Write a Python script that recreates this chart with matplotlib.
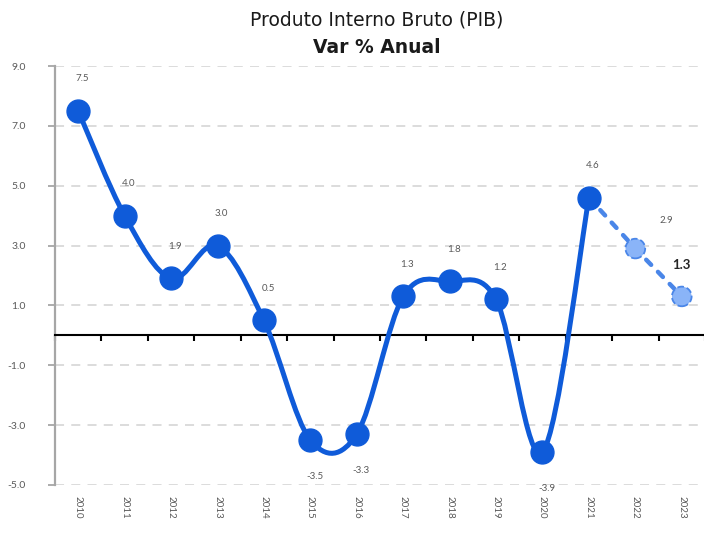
"""
PIB - variacao percentual anual, com os dois ultimos anos como projecao.
Gera out.png.
"""
import matplotlib
matplotlib.use("Agg")
import matplotlib.pyplot as plt
from matplotlib.path import Path
from matplotlib.patches import PathPatch
import numpy as np

# ─── Dados ──────────────────────────────────────────────────────────────────
ANOS = ["2010", "2011", "2012", "2013", "2014", "2015", "2016",
        "2017", "2018", "2019", "2020", "2021", "2022", "2023"]
PIB_REAL = [7.5, 4.0, 1.9, 3.0, 0.5, -3.5, -3.3, 1.3, 1.8, 1.2, -3.9, 4.6]
PIB_PROJ = [2.9, 1.3]
Y_TICKS = [-5, -3, -1, 1, 3, 5, 7, 9]

# ─── Estilo ─────────────────────────────────────────────────────────────────
AZUL = "#0f5bd9"
AZUL_PROJ = "#4a86e8"
AZUL_CLARO = "#8ab4f8"
CINZA_TXT = "#595959"
CINZA_GRID = "#d9d9d9"
CINZA_EIXO = "#a6a6a6"


def curva_suave(x, y):
    """Caminho Bezier suavizado (tipo Catmull-Rom) passando pelos pontos."""
    pts = np.column_stack([x, y]).astype(float)
    n = len(pts)
    verts = [pts[0]]
    codes = [Path.MOVETO]
    for i in range(n - 1):
        p0 = pts[i - 1] if i > 0 else pts[i]
        p1 = pts[i]
        p2 = pts[i + 1]
        p3 = pts[i + 2] if i + 2 < n else pts[i + 1]
        c1 = p1 + (p2 - p0) / 6.0
        c2 = p2 - (p3 - p1) / 6.0
        verts += [c1, c2, p2]
        codes += [Path.CURVE4] * 3
    return Path(verts, codes)


def main():
    plt.rcParams["font.family"] = ["Lato", "DejaVu Sans"]

    fig = plt.figure(figsize=(7.04, 5.37), dpi=100)
    ax = fig.add_axes([55 / 704, 52 / 537, 650 / 704, 419 / 537])

    x_real = np.arange(len(PIB_REAL))
    x_proj = np.arange(len(PIB_REAL), len(ANOS))

    # grade tracejada
    for v in Y_TICKS:
        ax.axhline(v, color=CINZA_GRID, lw=1.3, ls=(0, (5, 4)), zorder=0)

    # linha suavizada dos anos realizados
    patch = PathPatch(curva_suave(x_real, PIB_REAL), fill=False,
                      edgecolor=AZUL, lw=3.6, capstyle="round",
                      joinstyle="round", zorder=3)
    ax.add_patch(patch)
    ax.plot(x_real, PIB_REAL, ls="none", marker="o", ms=16.5,
            color=AZUL, zorder=5)

    # projecao tracejada
    ax.plot([x_real[-1]] + list(x_proj), [PIB_REAL[-1]] + PIB_PROJ,
            color=AZUL_PROJ, lw=3.2, ls=(0, (1.6, 2.2)),
            dash_capstyle="round", zorder=2)
    ax.scatter(x_proj, PIB_PROJ, s=200, facecolor=AZUL_CLARO,
               edgecolor=AZUL_PROJ, linewidths=1.3, linestyle="--", zorder=5)

    # rotulos de valor
    for xi, v in zip(x_real, PIB_REAL):
        dy = 23 if v >= 0 else -26
        ax.annotate(f"{v:.1f}", (xi, v), xytext=(3, dy),
                    textcoords="offset points", ha="center", va="center",
                    fontsize=7, color=CINZA_TXT)
    ax.annotate(f"{PIB_PROJ[0]:.1f}", (x_proj[0], PIB_PROJ[0]),
                xytext=(22, 20), textcoords="offset points",
                ha="center", va="center", fontsize=7, color=CINZA_TXT)
    ax.annotate(f"{PIB_PROJ[1]:.1f}", (x_proj[1], PIB_PROJ[1]),
                xytext=(0, 23), textcoords="offset points",
                ha="center", va="center", fontsize=9.5, fontweight="bold",
                color="#262626")

    # eixos
    ax.set_xlim(-0.5, len(ANOS) - 0.5)
    ax.set_ylim(min(Y_TICKS), max(Y_TICKS))
    ax.set_yticks(Y_TICKS)
    ax.set_yticklabels([f"{v:.1f}" for v in Y_TICKS], fontsize=7.5,
                       color=CINZA_TXT)
    ax.tick_params(axis="y", length=5, width=1.3, color=CINZA_EIXO, pad=16)

    ax.spines["top"].set_visible(False)
    ax.spines["right"].set_visible(False)
    ax.spines["left"].set_color(CINZA_EIXO)
    ax.spines["left"].set_linewidth(1.6)
    ax.spines["bottom"].set_position(("data", 0))
    ax.spines["bottom"].set_color("black")
    ax.spines["bottom"].set_linewidth(1.5)
    ax.set_xticks(np.arange(len(ANOS) + 1) - 0.5)
    ax.set_xticklabels([])
    ax.tick_params(axis="x", direction="out", length=4, width=1.5,
                   color="black")

    sec = ax.secondary_xaxis(0)
    sec.set_xticks(np.arange(len(ANOS)))
    sec.set_xticklabels(ANOS, rotation=270, fontsize=7, color=CINZA_TXT)
    sec.tick_params(length=0, pad=8)
    sec.spines["bottom"].set_visible(False)

    # titulo
    fig.text(0.535, 0.962, "Produto Interno Bruto (PIB)", ha="center",
             va="center", fontsize=13.5, family="DejaVu Sans",
             color="#1a1a1a")
    fig.text(0.535, 0.912, "Var % Anual", ha="center", va="center",
             fontsize=13.5, family="DejaVu Sans", fontweight="bold",
             color="#1a1a1a")

    fig.savefig("out.png", dpi=100)
    plt.close(fig)


if __name__ == "__main__":
    main()
